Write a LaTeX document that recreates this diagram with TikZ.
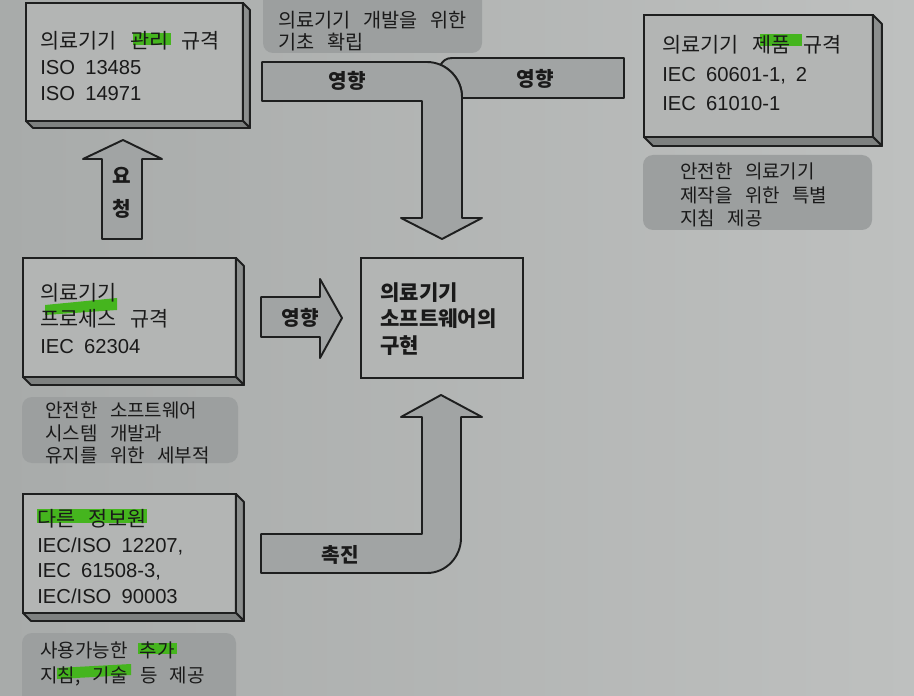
\documentclass[tikz,border=0pt]{standalone}
\usepackage{fontspec}
\setmainfont{Noto Sans CJK KR}[WordSpace=2.9]
\newfontfamily\enfont{Liberation Sans}[WordSpace=1.8]
\newcommand\entx{\fontsize{11.5pt}{15pt}\selectfont\enfont}
\usetikzlibrary{calc}
\definecolor{bgleft}{HTML}{A8ABAA}
\definecolor{bgright}{HTML}{BEC0BF}
\definecolor{facec}{HTML}{B3B5B4}
\definecolor{sidec}{HTML}{8C8F8E}
\definecolor{botc}{HTML}{7E8180}
\definecolor{notec}{HTML}{9C9F9F}
\definecolor{arrowc}{HTML}{A1A4A4}
\definecolor{linec}{HTML}{1E1F1F}
\definecolor{textc}{HTML}{1A1A1A}
\definecolor{hlgreen}{HTML}{45B51E}
\tikzset{
  front/.style={draw=linec,line width=1.1pt,fill=facec,inner sep=0pt,outer sep=0pt,anchor=north west},
  side/.style={draw=linec,line width=1.1pt,fill=sidec,line join=round},
  note/.style={fill=notec,rounded corners=0.2cm},
  blockarrow/.style={draw=linec,line width=1.1pt,fill=arrowc,line join=round},
  hl/.style={fill=hlgreen},
  txt/.style={anchor=west,align=left,inner sep=0pt,text=textc,font=\fontsize{11.8pt}{#1}\selectfont},
  txt/.default=15pt,
  lbl/.style={text=textc,inner sep=0pt,font=\fontsize{11.5pt}{14pt}\selectfont\bfseries}
}
\begin{document}
\begin{tikzpicture}[x=0.02cm,y=-0.02cm]
\useasboundingbox (0,0) rectangle (914,696);
\clip (0,0) rectangle (914,696);
\shade[left color=bgleft,right color=bgright] (0,0) rectangle (914,696);
% notes
\fill[note] (263,-12) rectangle (482,53);
\fill[note] (643,155) rectangle (872,230);
\fill[note] (22,397) rectangle (238,463);
\fill[note] (22,633) rectangle (236,710);
% boxes
\node[front,minimum width=4.34cm,minimum height=2.36cm] (mgmt) at (26,3) {};
\node[front,minimum width=4.58cm,minimum height=2.44cm] (prod) at (644,15) {};
\node[front,minimum width=4.26cm,minimum height=2.38cm] (proc) at (23,258) {};
\node[front,minimum width=4.26cm,minimum height=2.38cm] (other) at (23,494) {};
\node[front,minimum width=3.24cm,minimum height=2.40cm] (impl) at (361,258) {};
\foreach \f/\d in {mgmt/7,prod/9,proc/8,other/8}{
  \draw[side] (\f.north east) -- ++(\d,\d) -- ($(\f.south east)+(\d,\d)$) -- (\f.south east) -- cycle;
  \draw[side,fill=botc] (\f.south west) -- ++(\d,\d) -- ($(\f.south east)+(\d,\d)$) -- (\f.south east) -- cycle;
}
% arrows
\draw[blockarrow] (624,58) -- (452,58) .. controls (446,58) and (443,61) .. (440.5,64.8) .. controls (453,70.2) and (462,82.75) .. (462,97) -- (462,98) -- (624,98) -- cycle;
\draw[blockarrow] (262,62) -- (427,62) .. controls (446,62) and (462,78) .. (462,97) -- (462,218) -- (482,218) -- (442,239) -- (401,218) -- (422,218) -- (422,101) -- (262,101) -- cycle;
\draw[blockarrow] (261,297) -- (320,297) -- (320,279) -- (342,318) -- (320,358) -- (320,337) -- (261,337) -- cycle;
\draw[blockarrow] (102,239) -- (102,159) -- (83,159) -- (123,140) -- (162,159) -- (142,159) -- (142,239) -- cycle;
\draw[blockarrow] (261,534) -- (422,534) -- (422,417) -- (401,417) -- (441,395) -- (482,417) -- (461,417) -- (461,538) .. controls (461,557) and (446,573) .. (427,573) -- (261,573) -- cycle;
% marker
\fill[hl] (133,33) rectangle (171,45);
\fill[hl] (760,34) rectangle (802,46);
\fill[hl] (45,305) -- (117,298) -- (117,310) -- (45,315) -- cycle;
\fill[hl] (37,509) rectangle (147,523);
\fill[hl] (138,643) rectangle (177,654);
\fill[hl] (57,668) -- (131,664) -- (131,675) -- (57,679) -- cycle;
% texts
\node[txt] (mgmtt) at ($(mgmt.west)+(14,4)$) {의료기기 관리 규격\\{\entx ISO 13485}\\{\entx ISO 14971}};
\node[txt=16.4pt] (prodt) at ($(prod.west)+(18,-3)$) {의료기기 제품 규격\\{\entx IEC 60601-1, 2}\\{\entx IEC 61010-1}};
\node[txt=15.3pt] (proct) at ($(proc.west)+(17,1)$) {의료기기\\프로세스 규격\\{\entx IEC 62304}};
\node[txt=14.7pt] (othert) at ($(other.west)+(14,3)$) {다른 정보원\\{\entx IEC/ISO 12207,}\\{\entx IEC 61508-3,}\\{\entx IEC/ISO 90003}};
\node[txt,font=\fontsize{12pt}{15pt}\selectfont\bfseries] (implt) at ($(impl.west)+(19,1)$) {의료기기\\소프트웨어의\\구현};
\node[txt,font=\fontsize{11.2pt}{12.5pt}\selectfont] (ntopt) at (278,31) {의료기기 개발을 위한\\기초 확립};
\node[txt,font=\fontsize{10.8pt}{13.3pt}\selectfont] (nrightt) at (680,195) {안전한 의료기기\\제작을 위한 특별\\지침 제공};
\node[txt,font=\fontsize{10.8pt}{13pt}\selectfont] (nmidt) at (45,433) {안전한 소프트웨어\\시스템 개발과\\유지를 위한 세부적};
\node[txt,font=\fontsize{10.8pt}{14.7pt}\selectfont] (nbott) at (40,664) {사용가능한 추가\\지침, 기술 등 제공};
\node[lbl] (eff1) at (347,81) {영향};
\node[lbl] (eff2) at (535,79) {영향};
\node[lbl] (eff3) at (300,318) {영향};
\node[lbl] (boost) at (340,555) {촉진};
\node[lbl,align=center] (req) at (122,193) {요\\[4.7pt]청};
\end{tikzpicture}
\end{document}
